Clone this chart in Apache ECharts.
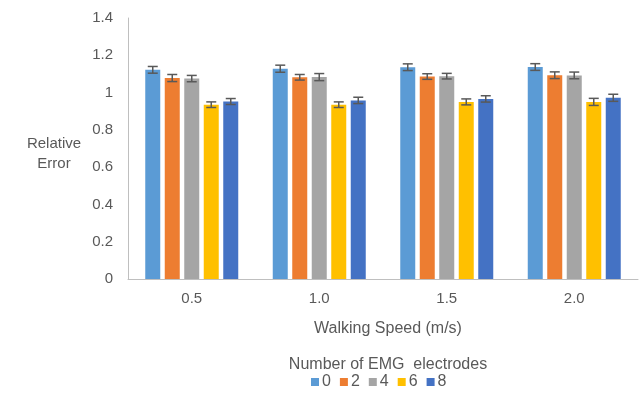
<!DOCTYPE html>
<html>
<head>
<meta charset="utf-8">
<script src="https://cdn.jsdelivr.net/npm/echarts@6/dist/echarts.min.js"></script>
<style>
html,body{margin:0;padding:0;background:#fff;}
#chart{width:644px;height:394px;}
</style>
</head>
<body>
<div id="chart"></div>
<script>
var categories = ['0.5', '1.0', '1.5', '2.0'];
var seriesNames = ['0', '2', '4', '6', '8'];
var values0 = [1.122, 1.128, 1.136, 1.137];
var values2 = [1.078, 1.082, 1.086, 1.093];
var values4 = [1.075, 1.083, 1.088, 1.092];
var values6 = [0.935, 0.935, 0.950, 0.950];
var values8 = [0.952, 0.958, 0.966, 0.972];
var errors0 = [0.018, 0.019, 0.018, 0.018];
var errors2 = [0.019, 0.015, 0.015, 0.018];
var errors4 = [0.017, 0.019, 0.015, 0.018];
var errors6 = [0.015, 0.015, 0.016, 0.019];
var errors8 = [0.016, 0.017, 0.017, 0.019];
var yTicks = [0, 0.2, 0.4, 0.6, 0.8, 1, 1.2, 1.4];

var allValues = [values0, values2, values4, values6, values8];
var allErrors = [errors0, errors2, errors4, errors6, errors8];
var colors = ['#5B9BD5', '#ED7D31', '#A5A5A5', '#FFC000', '#4472C4'];

var BAR_W = 15, BAR_GAP = 4.5;
var textColor = '#595959';
var FONT = 'Liberation Sans, Arial, sans-serif';

var series = [];
allValues.forEach(function (vals, i) {
  series.push({
    name: seriesNames[i],
    type: 'bar',
    data: vals,
    barWidth: BAR_W,
    barGap: (BAR_GAP / BAR_W * 100) + '%',
    itemStyle: { color: colors[i] },
    z: 2
  });
});
allValues.forEach(function (vals, i) {
  var d = vals.map(function (v, k) { return [k, v, allErrors[i][k]]; });
  series.push({
    type: 'custom',
    name: 'err' + i,
    data: d,
    z: 5,
    silent: true,
    renderItem: function (params, api) {
      var k = api.value(0), v = api.value(1), e = api.value(2);
      var off = (i - 2) * (BAR_W + BAR_GAP);
      var hi = api.coord([k, v + e]);
      var lo = api.coord([k, v - e]);
      var x = hi[0] + off;
      var cw = 5;
      var st = { stroke: '#595959', lineWidth: 1.5 };
      return {
        type: 'group',
        children: [
          { type: 'line', shape: { x1: x, y1: hi[1], x2: x, y2: lo[1] }, style: st },
          { type: 'line', shape: { x1: x - cw, y1: hi[1], x2: x + cw, y2: hi[1] }, style: st },
          { type: 'line', shape: { x1: x - cw, y1: lo[1], x2: x + cw, y2: lo[1] }, style: st }
        ]
      };
    }
  });
});

var chart = echarts.init(document.getElementById('chart'));
chart.setOption({
  animation: false,
  textStyle: { fontFamily: FONT },
  title: [
    { text: 'Relative\nError', left: 49, top: 129, textAlign: 'center',
      textStyle: { fontSize: 15, fontWeight: 'normal', color: textColor, lineHeight: 20, fontFamily: FONT } },
    { text: 'Walking Speed (m/s)', left: 383, top: 316, textAlign: 'center',
      textStyle: { fontSize: 16, fontWeight: 'normal', color: textColor, fontFamily: FONT } },
    { text: 'Number of EMG  electrodes', left: 383, top: 352, textAlign: 'center',
      textStyle: { fontSize: 16, fontWeight: 'normal', color: textColor, fontFamily: FONT } }
  ],
  legend: {
    data: seriesNames,
    left: 311,
    top: 374,
    icon: 'rect',
    itemWidth: 8,
    itemHeight: 8,
    itemGap: 9,
    padding: 0,
    textStyle: { fontSize: 16, color: textColor, fontFamily: FONT, padding: [0, 0, 0, -2] }
  },
  grid: { left: 128, right: 6, top: 18, bottom: 115, containLabel: false },
  xAxis: {
    type: 'category',
    data: categories,
    axisLine: { lineStyle: { color: '#BFBFBF', width: 1 } },
    axisTick: { show: false },
    axisLabel: { fontSize: 15, color: textColor, margin: 12, fontFamily: FONT },
    splitLine: { show: false }
  },
  yAxis: {
    type: 'value',
    min: 0,
    max: 1.4,
    interval: 0.2,
    axisLine: { show: true, lineStyle: { color: '#BFBFBF', width: 1 } },
    axisTick: { show: false },
    splitLine: { show: false },
    axisLabel: {
      fontSize: 15, color: textColor, margin: 15, fontFamily: FONT,
      formatter: function (v) {
        var t = yTicks.reduce(function (a, b) { return Math.abs(b - v) < Math.abs(a - v) ? b : a; });
        return String(Math.round(t * 10) / 10);
      }
    }
  },
  series: series
});
</script>
</body>
</html>
